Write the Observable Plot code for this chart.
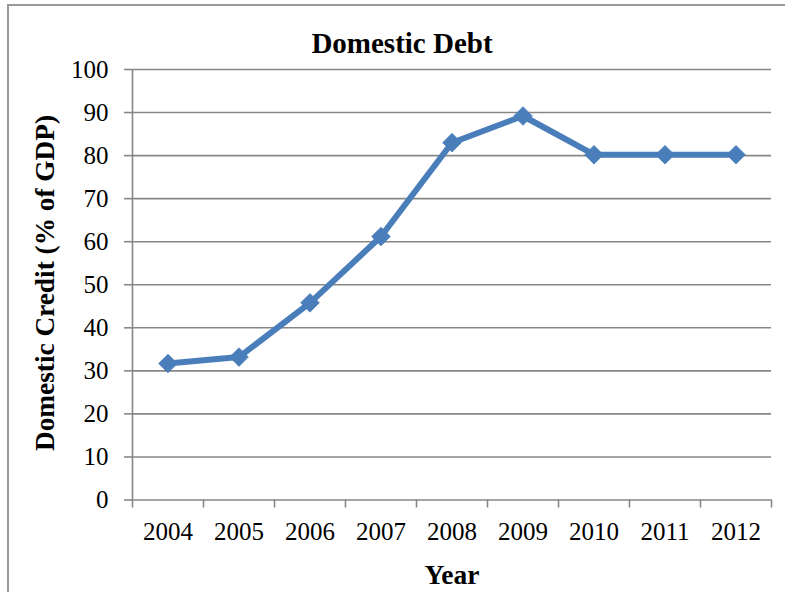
<!DOCTYPE html>
<html>
<head>
<meta charset="utf-8">
<script src="https://cdn.jsdelivr.net/npm/d3@7"></script>
<script src="https://cdn.jsdelivr.net/npm/@observablehq/plot@0.6"></script>
<style>
  html, body { margin: 0; padding: 0; background: #fff; }
  #wrap { position: relative; width: 785px; height: 592px; overflow: hidden; font-family: "Liberation Serif", "Times New Roman", serif; }
  #frame { position: absolute; left: 7px; top: 4px; width: 900px; height: 700px; border-top: 2px solid #999; border-left: 2px solid #999; }
  #chart { position: absolute; left: 0; top: 0; }
  .lbl { position: absolute; font-weight: bold; color: #000; white-space: nowrap; line-height: 1; }
  #title { font-size: 29px; left: 402px; top: 29px; transform: translateX(-50%); }
  #xlab { font-size: 27.5px; left: 452px; top: 561px; transform: translateX(-50%); }
  #ylab { font-size: 27.3px; left: 46px; top: 283px; transform: translate(-50%, -50%) rotate(-90deg); }
</style>
</head>
<body>
<div id="wrap">
  <div id="frame"></div>
  <div id="chart"></div>
  <div id="title" class="lbl">Domestic Debt</div>
  <div id="xlab" class="lbl">Year</div>
  <div id="ylab" class="lbl">Domestic Credit (% of GDP)</div>
</div>
<script>
const years = [2004, 2005, 2006, 2007, 2008, 2009, 2010, 2011, 2012];
const credit = [31.7, 33.2, 45.8, 61.2, 83.0, 89.2, 80.2, 80.2, 80.2];
const yTicks = [0, 10, 20, 30, 40, 50, 60, 70, 80, 90, 100];
const xBounds = years.map(y => y - 0.5).concat([years[years.length - 1] + 0.5]);

const data = years.map((year, i) => ({year, value: credit[i]}));
const gray = "#878787";
const blue = "#4a7ebb";

const chart = Plot.plot({
  width: 785,
  height: 592,
  marginLeft: 132,
  marginRight: 14,
  marginTop: 69,
  marginBottom: 92.5,
  style: {fontFamily: "Liberation Serif, Times New Roman, serif", color: "#000", background: "transparent"},
  x: {type: "linear", domain: [xBounds[0], xBounds[xBounds.length - 1]], axis: null},
  y: {domain: [0, 100], axis: null},
  marks: [
    Plot.ruleY(yTicks, {stroke: gray, strokeWidth: 1.6}),
    Plot.ruleX([xBounds[0]], {stroke: gray, strokeWidth: 1.6}),
    Plot.axisY(yTicks, {tickSize: 8, tickPadding: 16, fontSize: 25, stroke: gray, strokeWidth: 1.6, fill: "#000", tickFormat: d => String(d), label: null}),
    Plot.axisX(xBounds, {tickSize: 8, stroke: gray, strokeWidth: 1.6, tickFormat: () => "", label: null}),
    Plot.axisX(years, {tickSize: 0, tickPadding: 22, fontSize: 25, fill: "#000", tickFormat: d => String(d), label: null}),
    Plot.line(data, {x: "year", y: "value", stroke: blue, strokeWidth: 6, strokeLinejoin: "round"}),
    Plot.dot(data, {x: "year", y: "value", symbol: "diamond2", r: 8.4, fill: blue, stroke: blue, strokeWidth: 0.8})
  ]
});
document.getElementById("chart").appendChild(chart);
</script>
</body>
</html>
